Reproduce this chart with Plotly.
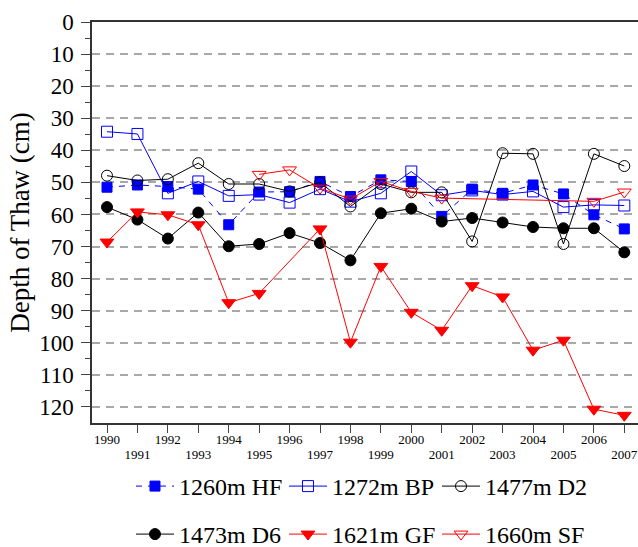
import plotly.graph_objects as go

years = list(range(1990, 2008))
hf_1260 = [51.5, 50.8, 51.3, 52.1, 63.2, 53.0, 52.9, 49.7, 54.4, 49.2, 49.7, 60.6, 52.1, 53.4, 50.8, 53.6, 60.1, 64.5]
bp_1272 = [34.2, 34.9, 53.4, 49.7, 54.2, 53.8, 56.3, 52.1, 56.0, 53.4, 46.6, 54.0, 52.5, 53.8, 52.8, 57.7, 57.0, 57.2]
d2_1477 = [47.9, 49.4, 49.0, 44.0, 50.5, 50.5, 52.8, 50.0, 57.5, 50.5, 53.1, 53.1, 68.4, 40.9, 41.1, 69.2, 41.1, 44.9]
d6_1473 = [57.7, 61.6, 67.5, 59.4, 69.9, 69.2, 65.8, 68.9, 74.3, 59.6, 58.2, 62.2, 61.1, 62.5, 63.9, 64.3, 64.3, 71.8]
gf_1621 = [68.6, 59.2, 60.1, 63.2, 87.5, 84.6, None, 64.5, 99.8, 76.2, 90.5, 96.1, 82.2, 85.7, 102.3, 99.2, 120.7, 122.6]
sf_1660 = [None, None, None, None, None, 47.5, 46.1, 51.8, 55.2, 49.7, 52.8, 54.9, None, None, None, None, 55.9, 53.0]

even_years = [y for y in years if y % 2 == 0]
odd_years = [y for y in years if y % 2 == 1]
y_ticks = list(range(0, 130, 10))

FONT = "Liberation Serif"
BLUE = "#0000ff"
RED = "#ff0000"
BLACK = "#000000"

series = [
    ("1260m HF", hf_1260, BLUE, "square", 10, "6px,6px", "legend"),
    ("1272m BP", bp_1272, BLUE, "square-open", 11, "solid", "legend"),
    ("1477m D2", d2_1477, BLACK, "circle-open", 11, "solid", "legend"),
    ("1473m D6", d6_1473, BLACK, "circle", 11, "solid", "legend2"),
    ("1621m GF", gf_1621, RED, "triangle-down", 12, "solid", "legend2"),
    ("1660m SF", sf_1660, RED, "triangle-down-open", 12, "solid", "legend2"),
]

fig = go.Figure()
for name, vals, col, sym, size, dash, leg in series:
    fig.add_trace(go.Scatter(
        x=years, y=vals, name=name, mode="lines+markers",
        connectgaps=True,
        line=dict(color=col, width=1, dash=dash),
        marker=dict(symbol=sym, size=size, color=col, line=dict(color=col, width=1)),
        legend=leg,
    ))

# invisible helper trace for the second (odd-year label) x axis
fig.add_trace(go.Scatter(x=[years[0]], y=[None], xaxis="x2", yaxis="y",
                         showlegend=False, hoverinfo="skip", mode="lines"))

leg_common = dict(
    orientation="h", xanchor="left", yanchor="top",
    font=dict(family=FONT, size=24, color="black"),
    bgcolor="rgba(0,0,0,0)", borderwidth=0,
    itemwidth=38, entrywidth=100,
)

fig.update_layout(
    width=638, height=547,
    margin=dict(l=92, r=0, t=22, b=124, autoexpand=False),
    paper_bgcolor="white", plot_bgcolor="white",
    font=dict(family=FONT, color="black"),
    xaxis=dict(
        range=[1989.507, 2007.45],
        tickvals=years,
        ticktext=[str(y) if y % 2 == 0 else "" for y in years],
        ticks="outside", ticklen=8, tickwidth=1, tickcolor="#444",
        showline=True, linecolor="#333", linewidth=1.5, mirror=True,
        showgrid=False, zeroline=False,
        ticklabelstandoff=-4,
        tickfont=dict(family=FONT, size=13, color="black"),
    ),
    xaxis2=dict(
        overlaying="x", matches="x", anchor="y", side="bottom",
        tickvals=odd_years, ticktext=[str(y) for y in odd_years],
        ticks="", showline=False, showgrid=False, zeroline=False,
        ticklabelstandoff=22,
        tickfont=dict(family=FONT, size=13, color="black"),
    ),
    yaxis=dict(
        range=[125, 0],
        tickvals=y_ticks,
        ticks="outside", ticklen=9, tickwidth=1, tickcolor="#444",
        showline=True, linecolor="#333", linewidth=1.5,
        showgrid=True, gridcolor="#a8a8a8", gridwidth=1.5, griddash="8px,6px",
        zeroline=False,
        ticklabelstandoff=3,
        tickfont=dict(family=FONT, size=23, color="black"),
        minor=dict(tickvals=list(range(5, 125, 10)), ticks="outside", ticklen=5,
                   tickcolor="#444", showgrid=False),
        title=dict(text="Depth of Thaw (cm)", font=dict(family=FONT, size=27, color="black"),
                   standoff=2),
    ),
    legend=dict(x=0.0714, y=-0.1022, **leg_common),
    legend2=dict(x=0.0714, y=-0.2219, **leg_common),
)

fig.write_html("out.html")
